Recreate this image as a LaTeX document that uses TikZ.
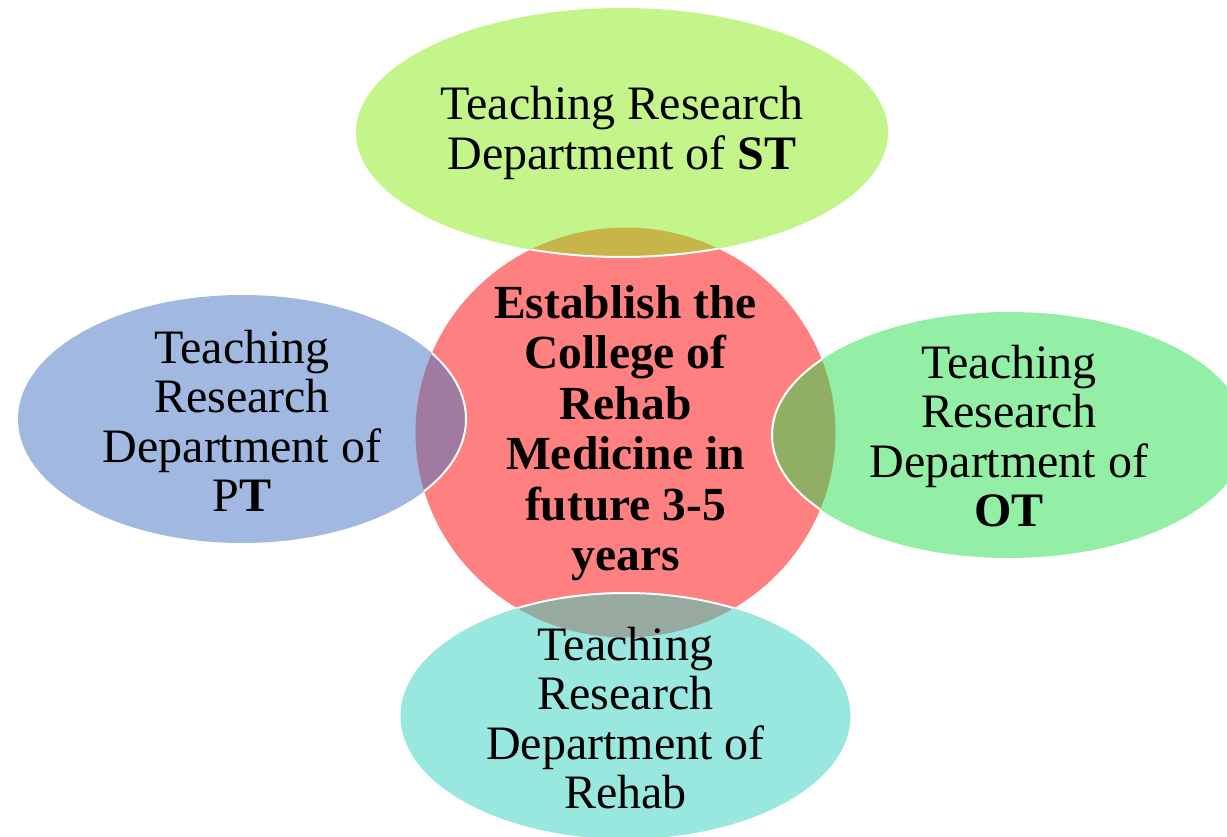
\documentclass[tikz,border=0pt]{standalone}
\usepackage{fontspec}
\setmainfont{Liberation Serif}
\begin{document}
\begin{tikzpicture}[x=1pt,y=-1pt,
  lbl/.style={align=center,font=\fontsize{48}{49.5}\selectfont,inner sep=0pt},
  clbl/.style={align=center,font=\fontsize{47.5}{50.5}\selectfont\bfseries,inner sep=0pt},
  rim/.style={draw=white,line width=2pt}]
\definecolor{cred}{RGB}{255,128,128}
\definecolor{cst}{RGB}{196,245,138}
\definecolor{cstl}{RGB}{198,182,74}
\definecolor{cpt}{RGB}{161,184,224}
\definecolor{cptl}{RGB}{160,122,160}
\definecolor{cot}{RGB}{146,239,165}
\definecolor{cotl}{RGB}{144,174,100}
\definecolor{crh}{RGB}{152,232,224}
\definecolor{crhl}{RGB}{152,169,160}
\useasboundingbox (0,0) rectangle (1227,837);
\clip (0,0) rectangle (1227,837);
% centre circle
\fill[cred] (625.5,432.5) ellipse [x radius=210,y radius=205];
% outer ellipses
\fill[cst] (622,132.5) ellipse [x radius=266,y radius=124.5];
\fill[cpt] (242,419) ellipse [x radius=224,y radius=124];
\fill[cot] (1009,435) ellipse [x radius=237,y radius=123];
\fill[crh] (625.5,716) ellipse [x radius=225,y radius=123];
% overlaps
\begin{scope}
\clip (625.5,432.5) ellipse [x radius=210,y radius=205];
\fill[cstl] (622,132.5) ellipse [x radius=266,y radius=124.5];
\fill[cptl] (242,419) ellipse [x radius=224,y radius=124];
\fill[cotl] (1009,435) ellipse [x radius=237,y radius=123];
\fill[crhl] (625.5,716) ellipse [x radius=225,y radius=123];
\draw[rim] (622,132.5) ellipse [x radius=266,y radius=124.5];
\draw[rim] (242,419) ellipse [x radius=224,y radius=124];
\draw[rim] (1009,435) ellipse [x radius=237,y radius=123];
\draw[rim] (625.5,716) ellipse [x radius=225,y radius=123];
\end{scope}
% labels
\node[clbl] (c) at (625.5,433) {Establish the\\College of\\Rehab\\Medicine in\\future 3-5\\years};
\node[lbl] (st) at (622,133) {Teaching Research\\Department of \textbf{ST}};
\node[lbl] (pt) at (242,421) {Teaching\\Research\\Department of\\P\textbf{T}};
\node[lbl] (ot) at (1009,436) {Teaching\\Research\\Department of\\\textbf{OT}};
\node[lbl] (rh) at (625.5,718) {Teaching\\Research\\Department of\\Rehab};
\end{tikzpicture}
\end{document}
